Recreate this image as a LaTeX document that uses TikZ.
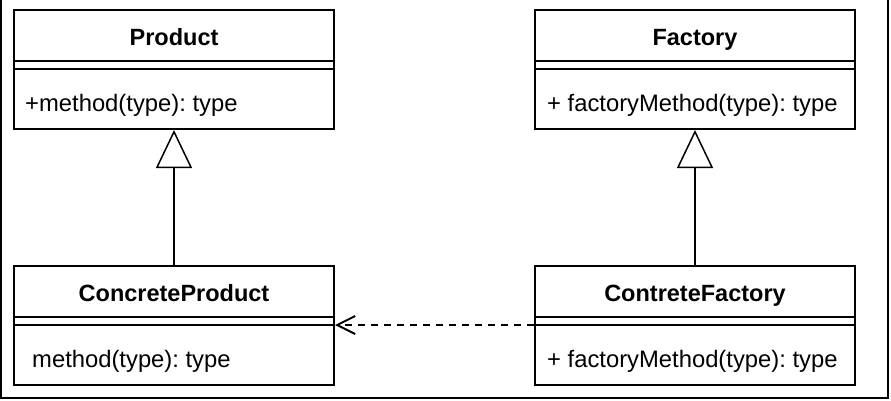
\documentclass[tikz,border=0pt]{standalone}
\usepackage{fontspec}
\setmainfont{Liberation Sans}
\usetikzlibrary{positioning,arrows.meta}
\frenchspacing

\begin{document}
\begin{tikzpicture}[x=1pt, y=-1pt, node distance=135pt and 199pt, every node/.style={font=\fontsize{23.8}{28}\selectfont}, classbox/.style={draw, line width=2pt, minimum width=320pt, minimum height=119pt, inner sep=0pt}, title/.style={font=\fontsize{23.5}{28}\selectfont\bfseries, anchor=base, inner sep=0pt}, member/.style={anchor=base west, inner sep=0pt}, sep/.style={line width=2pt}, inherit/.style={line width=2pt, -{Triangle[open, fill=white, length=38pt, width=36pt, line width=1.5pt]}}, depend/.style={line width=2pt, dash pattern=on 7pt off 6pt, -{Straight Barb[length=18pt, width=18pt, line width=2pt]}}]
\useasboundingbox (0,0) rectangle (891,400);
\draw[line width=2pt] (1,0) -- (1,398) -- (888,398) -- (888,0);
% classes
\node[classbox] (prod) at (174,69.5) {};
\node[classbox, right=of prod] (fact) {};
\node[classbox, below=of prod] (cprod) {};
\node[classbox, below=of fact] (cfact) {};
\foreach \c in {prod,fact,cprod,cfact} {
  \draw[sep] ([yshift=-52pt]\c.north west) -- ([yshift=-52pt]\c.north east);
  \draw[sep] ([yshift=-60pt]\c.north west) -- ([yshift=-60pt]\c.north east);
}
\node[title] (prodname) at ([yshift=-36.5pt]prod.north) {Product};
\node[title] (factname) at ([yshift=-36.5pt]fact.north) {Factory};
\node[title] (cprodname) at ([yshift=-36.5pt]cprod.north) {ConcreteProduct};
\node[title] (cfactname) at ([yshift=-36.5pt]cfact.north) {ContreteFactory};
\node[member] (prodop) at ([xshift=12pt, yshift=-102pt]prod.north west) {+method(type): type};
\node[member] (factop) at ([xshift=13pt, yshift=-102pt]fact.north west) {+ factoryMethod(type): type};
\node[member] (cprodop) at ([xshift=19pt, yshift=-102pt]cprod.north west) {method(type): type};
\node[member] (cfactop) at ([xshift=13pt, yshift=-102pt]cfact.north west) {+ factoryMethod(type): type};
% relations
\draw[inherit] (cprod.north) -- (prod.south);
\draw[inherit] (cfact.north) -- (fact.south);
\draw[depend] ([yshift=-60pt]cfact.north west) -- ([yshift=-60pt]cprod.north east);
\end{tikzpicture}
\end{document}
